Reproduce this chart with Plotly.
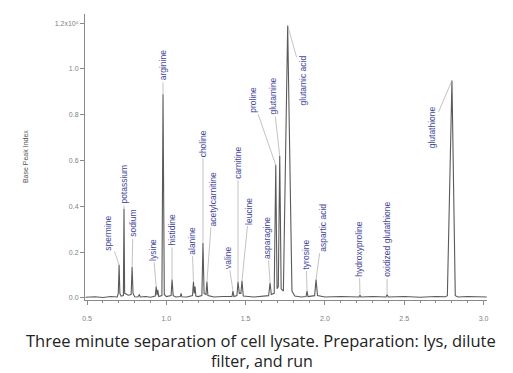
import plotly.graph_objects as go

# ---- data (time in min, intensity in units of 1e6) ----
trace_time = [0.49, 0.55, 0.60, 0.65, 0.69, 0.697, 0.702, 0.707, 0.715, 0.729,
              0.733, 0.737, 0.76, 0.778, 0.784, 0.790, 0.80, 0.82, 0.83, 0.835,
              0.87, 0.90, 0.93, 0.936, 0.941, 0.946, 0.952, 0.972, 0.979, 0.987,
              1.00, 1.03, 1.036, 1.043, 1.06, 1.088, 1.093, 1.098, 1.13, 1.165,
              1.171, 1.176, 1.181, 1.186, 1.20, 1.224, 1.231, 1.238, 1.250, 1.256,
              1.262, 1.30, 1.36, 1.414, 1.42, 1.426, 1.445, 1.452, 1.46, 1.470,
              1.477, 1.485, 1.55, 1.60, 1.645, 1.654, 1.662, 1.680, 1.690, 1.698,
              1.706, 1.715, 1.724, 1.738, 1.765, 1.792, 1.81, 1.85, 1.881, 1.887,
              1.893, 1.935, 1.944, 1.953, 2.00, 2.10, 2.215, 2.221, 2.227, 2.30,
              2.385, 2.392, 2.399, 2.50, 2.60, 2.70, 2.76, 2.772, 2.801, 2.822,
              2.84, 2.90, 3.00, 3.02]
trace_intensity = [0.003, 0.005, 0.002, 0.006, 0.004, 0.02, 0.145, 0.02, 0.008, 0.01,
                   0.39, 0.02, 0.012, 0.015, 0.135, 0.02, 0.005, 0.004, 0.015, 0.004,
                   0.006, 0.003, 0.008, 0.05, 0.012, 0.035, 0.006, 0.01, 0.89, 0.015,
                   0.006, 0.01, 0.08, 0.01, 0.004, 0.006, 0.02, 0.005, 0.004, 0.01,
                   0.07, 0.02, 0.05, 0.008, 0.006, 0.01, 0.24, 0.02, 0.015, 0.07,
                   0.01, 0.004, 0.006, 0.006, 0.03, 0.006, 0.01, 0.07, 0.02, 0.02,
                   0.075, 0.008, 0.004, 0.008, 0.01, 0.065, 0.015, 0.02, 0.58, 0.04,
                   0.05, 0.62, 0.04, 0.03, 1.19, 0.03, 0.008, 0.004, 0.006, 0.03,
                   0.006, 0.01, 0.08, 0.01, 0.004, 0.006, 0.004, 0.012, 0.004, 0.006,
                   0.004, 0.014, 0.004, 0.006, 0.003, 0.006, 0.005, 0.01, 0.95, 0.01,
                   0.004, 0.006, 0.003, 0.004]

peak_names = ["spermine", "potassium", "sodium", "lysine", "arginine", "histidine",
              "alanine", "choline", "acetylcarnitine", "valine", "carnitine", "leucine",
              "asparagine", "proline", "glutamine", "glutamic acid", "tyrosine",
              "aspartic acid", "hydroxyproline", "oxidized glutathione", "glutathione"]
peak_times = [0.702, 0.733, 0.784, 0.936, 0.979, 1.036, 1.171, 1.231, 1.256, 1.42,
              1.452, 1.477, 1.654, 1.690, 1.715, 1.765, 1.887, 1.944, 2.221, 2.392, 2.801]
peak_heights = [0.145, 0.39, 0.135, 0.05, 0.89, 0.08, 0.07, 0.24, 0.07, 0.03,
                0.07, 0.075, 0.065, 0.58, 0.62, 1.19, 0.03, 0.08, 0.012, 0.014, 0.95]
# where each rotated label sits (data coords)
label_x = [0.632, 0.733, 0.790, 0.916, 0.979, 1.036, 1.162, 1.231, 1.294, 1.389,
           1.452, 1.521, 1.635, 1.547, 1.673, 1.862, 1.881, 1.988, 2.215, 2.392, 2.675]
label_y = [0.285, 0.495, 0.324, 0.21, 1.016, 0.295, 0.25, 0.675, 0.434, 0.175,
           0.59, 0.38, 0.262, 0.866, 0.88, 0.95, 0.19, 0.307, 0.215, 0.254, 0.745]

y_tick_vals = [0.0, 0.2, 0.4, 0.6, 0.8, 1.0, 1.2]
y_tick_text = ["0.0", "0.2", "0.4", "0.6", "0.8", "1.0", "1.2x10⁶"]
x_tick_vals = [0.5, 1.0, 1.5, 2.0, 2.5, 3.0]
x_tick_text = ["0.5", "1.0", "1.5", "2.0", "2.5", "3.0"]

fig = go.Figure()
fig.add_trace(go.Scatter(x=trace_time, y=trace_intensity, mode="lines",
                         line=dict(color="#5a5a5a", width=1.1), hoverinfo="skip"))

for name, px, py, lx, ly in zip(peak_names, peak_times, peak_heights, label_x, label_y):
    fig.add_annotation(x=px, y=py, ax=lx, ay=ly, axref="x", ayref="y",
                       text=name, textangle=-90, showarrow=True, arrowhead=0,
                       arrowwidth=0.6, arrowcolor="#9a9a9a", standoff=0,
                       font=dict(size=8.5, color="#45459a", family="Liberation Sans"))

axis_common = dict(showline=True, linecolor="#8a8a8a", linewidth=1, showgrid=False,
                   zeroline=False, ticks="outside", tickcolor="#8a8a8a", automargin=False,
                   tickfont=dict(size=7, color="#808080", family="Liberation Sans"))

fig.update_xaxes(range=[0.487, 3.022], tickvals=x_tick_vals, ticktext=x_tick_text,
                 ticklen=4, ticklabelstandoff=8,
                 minor=dict(dtick=0.1, ticks="outside", ticklen=2, tickcolor="#8a8a8a"),
                 **axis_common)
fig.update_yaxes(range=[-0.009, 1.24], tickvals=y_tick_vals, ticktext=y_tick_text,
                 ticklen=4, **axis_common)

fig.add_annotation(xref="paper", yref="paper", x=-0.149, y=0.5, xanchor="center",
                   yanchor="middle", text="Base Peak Index", textangle=-90, showarrow=False,
                   font=dict(size=7, color="#555555", family="Liberation Sans"))
fig.add_annotation(xref="paper", yref="paper", x=0.438, y=-0.140, xanchor="center",
                   yanchor="middle",
                   text="Three minute separation of cell lysate. Preparation: lys, dilute",
                   showarrow=False, font=dict(size=16.5, color="#222222", family="Open Sans"))
fig.add_annotation(xref="paper", yref="paper", x=0.440, y=-0.212, xanchor="center",
                   yanchor="middle", text="filter, and run",
                   showarrow=False, font=dict(size=16, color="#222222", family="Open Sans"))

# the page adds an 8 px body margin, so the figure is 8 px smaller with 8 px less left/top margin
fig.update_layout(width=505, height=365, margin=dict(l=77, r=26, t=6, b=73),
                  paper_bgcolor="white", plot_bgcolor="white", showlegend=False)

fig.write_html("out.html")
